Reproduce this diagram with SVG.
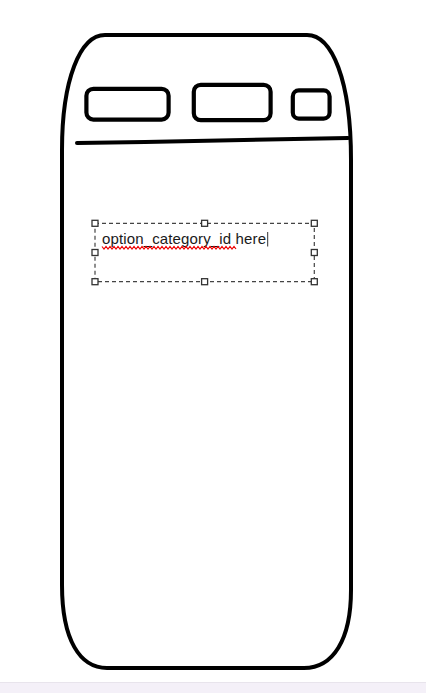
<svg xmlns="http://www.w3.org/2000/svg" width="426" height="693" viewBox="0 0 426 693">
<style>
.ink{fill:none;stroke:#000;stroke-width:4;stroke-linecap:round;stroke-linejoin:round}
.btn{fill:none;stroke:#000;stroke-width:4.2}
.handle{fill:#fff;stroke:#333;stroke-width:1.3}
.sel{fill:none;stroke:#444;stroke-width:1.2;stroke-dasharray:4 3}
.txt{font-family:"Liberation Sans",Arial,sans-serif;font-size:15px;fill:#1a1a1a}
</style>
<rect x="0" y="0" width="426" height="693" fill="#fff"/>
<rect x="0" y="682" width="426" height="11" fill="#F4F0F8"/>
<line x1="0" y1="682.5" x2="426" y2="682.5" stroke="#E8E4EC" stroke-width="1"/>
<g id="phone">
<path class="ink" d="M105,35 L307,35 C332,35 351,80 351,160 L351,590 C351,640 333,668 304,668 L107,668 C80,668 62,640 62,585 L62,150 C62,80 80,35 105,35 Z"/>
<polyline class="ink" points="77,143 145,142 348,138"/>
</g>
<g id="button1"><rect class="btn" x="86.4" y="88.8" width="82.2" height="30.8" rx="7"/></g>
<g id="button2"><rect class="btn" x="193.8" y="84.8" width="76.8" height="35.4" rx="7"/></g>
<g id="button3"><rect class="btn" x="292.8" y="90.4" width="36.8" height="28.2" rx="6"/></g>
<g id="textbox">
<rect class="sel" x="95" y="223.3" width="219.3" height="58.4"/>
<text class="txt" x="102" y="244" textLength="164" lengthAdjust="spacing">option_category_id here</text>
<path d="M102,246.5 l2,2.5 l2,-2.5 l2,2.5 l2,-2.5 l2,2.5 l2,-2.5 l2,2.5 l2,-2.5 l2,2.5 l2,-2.5 l2,2.5 l2,-2.5 l2,2.5 l2,-2.5 l2,2.5 l2,-2.5 l2,2.5 l2,-2.5 l2,2.5 l2,-2.5 l2,2.5 l2,-2.5 l2,2.5 l2,-2.5 l2,2.5 l2,-2.5 l2,2.5 l2,-2.5 l2,2.5 l2,-2.5 l2,2.5 l2,-2.5 l2,2.5 l2,-2.5 l2,2.5 l2,-2.5 l2,2.5 l2,-2.5 l2,2.5 l2,-2.5 l2,2.5 l2,-2.5 l2,2.5 l2,-2.5 l2,2.5 l2,-2.5 l2,2.5 l2,-2.5 l2,2.5 l2,-2.5 l2,2.5 l2,-2.5 l2,2.5 l2,-2.5 l2,2.5 l2,-2.5 l2,2.5 l2,-2.5 l2,2.5 l2,-2.5 l2,2.5 l2,-2.5 l2,2.5 l2,-2.5 l2,2.5 l2,-2.5 l2,2.5" fill="none" stroke="#e00" stroke-width="1.2"/>
<line x1="267.7" y1="232" x2="267.7" y2="246.5" stroke="#333" stroke-width="1"/>
<rect class="handle" x="92" y="220.3" width="6" height="6"/>
<rect class="handle" x="201.6" y="220.3" width="6" height="6"/>
<rect class="handle" x="311.3" y="220.3" width="6" height="6"/>
<rect class="handle" x="92" y="249.5" width="6" height="6"/>
<rect class="handle" x="311.3" y="249.5" width="6" height="6"/>
<rect class="handle" x="92" y="278.7" width="6" height="6"/>
<rect class="handle" x="201.6" y="278.7" width="6" height="6"/>
<rect class="handle" x="311.3" y="278.7" width="6" height="6"/>
</g>
</svg>
